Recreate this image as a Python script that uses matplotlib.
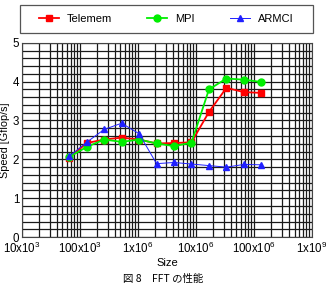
import numpy as np
import matplotlib.pyplot as plt
from matplotlib.patches import Rectangle
from matplotlib.ticker import FixedLocator, LogLocator, NullFormatter

sizes = [2**k for k in range(16, 28)]
telemem = [2.04, 2.42, 2.51, 2.56, 2.51, 2.41, 2.42, 2.44, 3.22, 3.84, 3.73, 3.71]
mpi = [2.06, 2.32, 2.51, 2.45, 2.51, 2.41, 2.34, 2.43, 3.80, 4.08, 4.05, 3.99]
armci = [2.08, 2.44, 2.77, 2.93, 2.66, 1.89, 1.92, 1.88, 1.84, 1.80, 1.87, 1.86]
xtick_vals = [1e4, 1e5, 1e6, 1e7, 1e8, 1e9]
xtick_labels = ['10x10$^3$', '100x10$^3$', '1x10$^6$', '10x10$^6$', '100x10$^6$', '1x10$^9$']

plt.rcParams['font.family'] = ['Liberation Sans', 'DejaVu Sans']
plt.rcParams['mathtext.fontset'] = 'custom'
plt.rcParams['mathtext.rm'] = 'Liberation Sans'

fig = plt.figure(figsize=(3.26, 2.85), dpi=100)
ax = fig.add_axes([0.067, 0.168, 0.89, 0.682])

l1, = ax.plot(sizes, telemem, color='#ff0000', marker='s', ms=4.5, lw=1.3, label='Telemem')
l2, = ax.plot(sizes, mpi, color='#00ee00', marker='o', ms=5, lw=1.3, label='MPI')
l3, = ax.plot(sizes, armci, color='#2020ff', marker='^', ms=4.5, lw=0.7, label='ARMCI')

ax.set_xscale('log')
ax.set_xlim(1e4, 1e9)
ax.set_ylim(0, 5)
ax.set_xticks(xtick_vals)
ax.set_xticklabels(xtick_labels, fontsize=8.3)
ax.xaxis.set_minor_locator(LogLocator(base=10, subs=np.arange(2, 10)))
ax.xaxis.set_minor_formatter(NullFormatter())
ax.set_yticks(range(6))
ax.set_yticklabels([str(v) for v in range(6)], fontsize=8.3)
ax.yaxis.set_minor_locator(FixedLocator(np.arange(0, 5.01, 0.2)))
ax.grid(True, which='both', color='#1a1a1a', lw=0.9)
ax.set_axisbelow(True)
ax.tick_params(which='both', length=0, pad=2)
ax.tick_params(axis='x', pad=3)
for s in ax.spines.values():
    s.set_color('#444444')
    s.set_linewidth(0.8)

ax.set_xlabel('Size', fontsize=8, labelpad=1)
ax.set_ylabel('Speed [Gflop/s]', fontsize=7.8, labelpad=2)

# legend box above the plot
fig.patches.append(Rectangle((0.061, 0.884), 0.899, 0.098, transform=fig.transFigure,
                             facecolor='white', edgecolor='#555555', lw=0.9))
fig.legend(handles=[l1, l2, l3], loc='center', ncol=3,
           bbox_to_anchor=(0.51, 0.933), frameon=False,
           fontsize=8, handlelength=1.8, handletextpad=0.7, columnspacing=3.2)

fig.text(0.5, 0.003, '図 8　FFT の性能', ha='center', va='bottom', fontsize=7.5,
         family=['Noto Sans CJK JP', 'DejaVu Sans'])

fig.savefig('out.png', dpi=100)
